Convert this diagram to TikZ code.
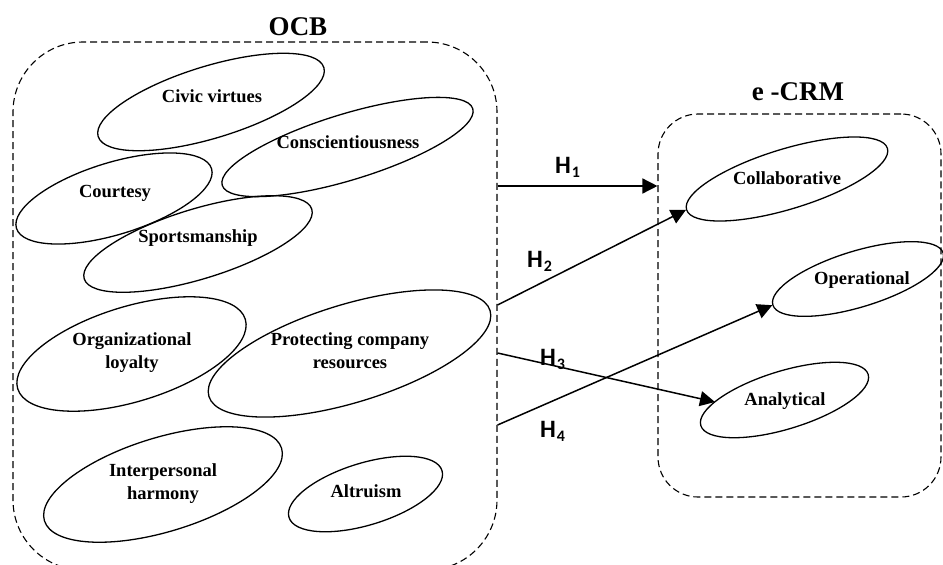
\documentclass[tikz,border=0pt]{standalone}
\usepackage{fontspec}
\setmainfont{Liberation Serif}
\newfontfamily\hfont{Carlito}
\usetikzlibrary{shapes.geometric,arrows.meta}
\tikzset{
  ell/.style={draw, ellipse, line width=1.3pt, inner sep=0pt, rotate=17},
  lbl/.style={anchor=base, inner sep=0pt, font=\fontsize{18.5}{23}\selectfont\bfseries, align=center},
  ttl/.style={anchor=base, inner sep=0pt, font=\fontsize{27}{30}\selectfont\bfseries},
  dbox/.style={draw, line width=1.1pt, dash pattern=on 7pt off 4pt, inner sep=0pt},
  hyp/.style={anchor=base, inner sep=0pt, font=\fontsize{25}{28}\selectfont\hfont\bfseries},
  arr/.style={line width=1.5pt, -{Triangle[length=15pt,width=15pt]}}
}
\newcommand{\hsub}[1]{\kern1pt\raisebox{-4pt}{\fontsize{16}{16}\selectfont #1}}
\begin{document}
\begin{tikzpicture}[x=1pt,y=-1pt]
\clip (0,0) rectangle (943,565);
% boxes
\node[dbox, minimum width=484pt, minimum height=528pt, rounded corners=70pt] (ocb) at (255,306) {};
\node[dbox, minimum width=283pt, minimum height=383pt, rounded corners=40pt] (ecrm) at (799.5,305.5) {};
\node[ttl] (ocbt) at (298,35) {OCB};
\node[ttl] (ecrmt) at (798,100) {e -CRM};
% OCB ellipses
\node[ell, minimum width=236pt, minimum height=72pt] (cv) at (211,102) {};
\node[ell, minimum width=262pt, minimum height=66pt] (con) at (347.5,147) {};
\node[ell, minimum width=204pt, minimum height=72pt] (crt) at (114,198.5) {};
\node[ell, minimum width=238pt, minimum height=70pt] (spt) at (198,244) {};
\node[ell, minimum width=238pt, minimum height=95pt] (org) at (131.5,354) {};
\node[ell, minimum width=294pt, minimum height=98pt] (pcr) at (349.5,353.5) {};
\node[ell, minimum width=248pt, minimum height=94pt] (ih) at (163,484.5) {};
\node[ell, minimum width=160pt, minimum height=62pt] (alt) at (365.5,494) {};
\node[lbl] (cvt) at (212,102) {Civic virtues};
\node[lbl] (cont) at (348,148) {Conscientiousness};
\node[lbl] (crtt) at (115,197) {Courtesy};
\node[lbl] (sptt) at (198,242) {Sportsmanship};
\node[lbl] (orgt) at (132,368) {Organizational\\loyalty};
\node[lbl] (pcrt) at (350,368) {Protecting company\\resources};
\node[lbl] (iht) at (163,499) {Interpersonal\\harmony};
\node[lbl] (altt) at (366,497) {Altruism};
% e-CRM ellipses
\node[ell, minimum width=210pt, minimum height=60pt] (col) at (787,179) {};
\node[ell, minimum width=178pt, minimum height=56pt] (op) at (858,279) {};
\node[ell, minimum width=175pt, minimum height=58pt] (ana) at (784.5,400) {};
\node[lbl] (colt) at (787,184) {Collaborative};
\node[lbl] (opt) at (862,284) {Operational};
\node[lbl] (anat) at (785,405) {Analytical};
% arrows
\coordinate (s1) at (ocb.east |- 0,186);
\coordinate (s2) at (ocb.east |- 0,305);
\coordinate (s3) at (ocb.east |- 0,353);
\coordinate (s4) at (ocb.east |- 0,425);
\coordinate (e1) at (ecrm.west |- 0,186);
\coordinate (e3) at (715,402);
\draw[arr] (s1) -- (e1);
\draw[arr] (s2) -- (col.west);
\draw[arr] (s3) -- (e3);
\draw[arr] (s4) -- (op.west);
\node[hyp] (h1) at (567.5,173) {H\hsub{1}};
\node[hyp] (h2) at (539.5,267) {H\hsub{2}};
\node[hyp] (h3) at (552.5,365) {H\hsub{3}};
\node[hyp] (h4) at (552.5,437) {H\hsub{4}};
\end{tikzpicture}
\end{document}
